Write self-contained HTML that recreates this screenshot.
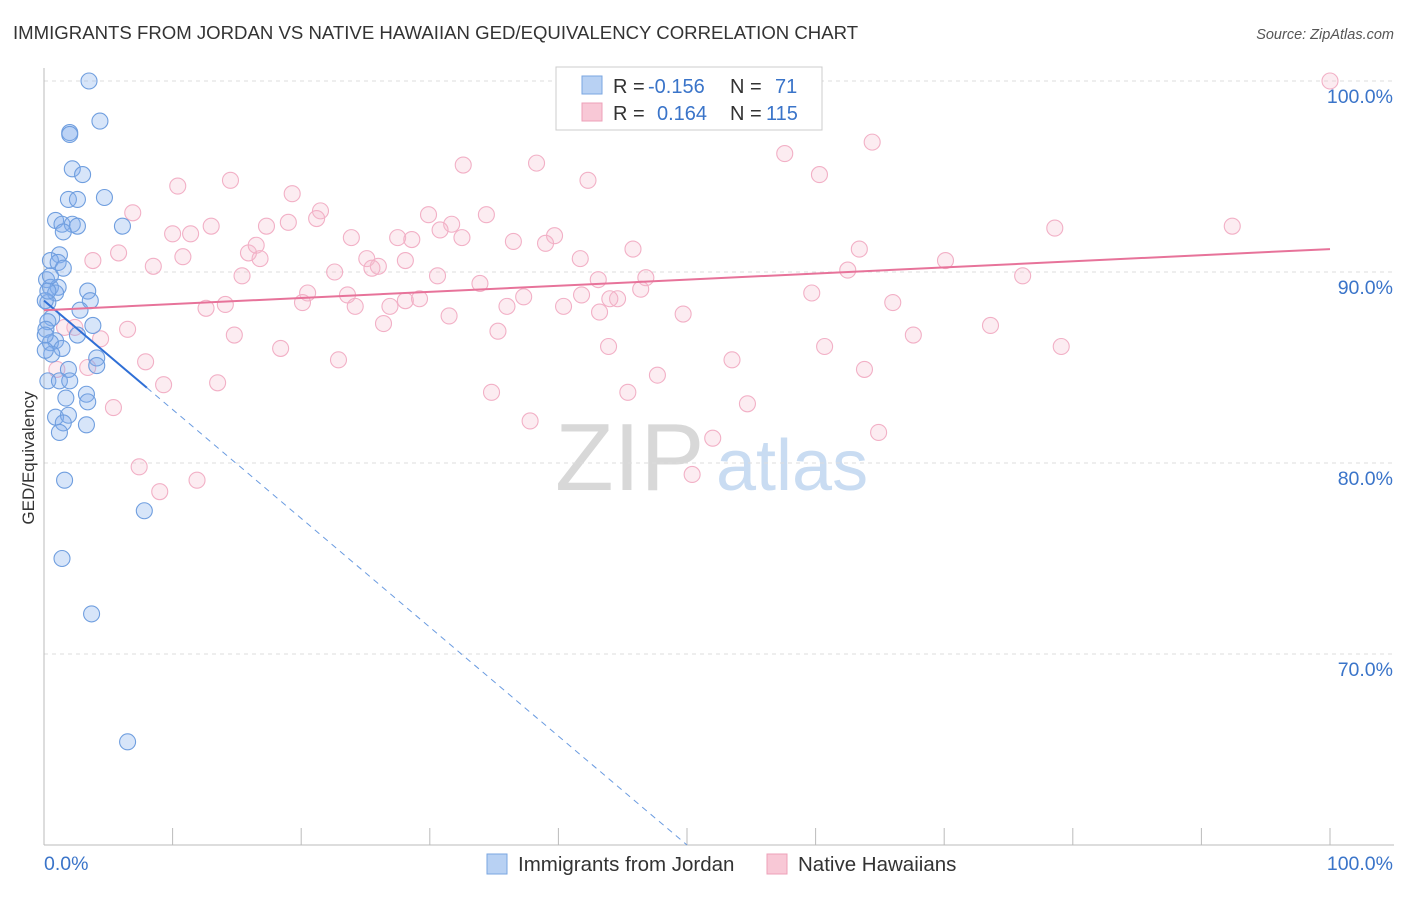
<!DOCTYPE html>
<html><head><meta charset="utf-8">
<style>
body{margin:0;background:#fff;font-family:"Liberation Sans",sans-serif;}
svg text{font-family:"Liberation Sans",sans-serif;}
</style></head>
<body>
<svg id="chart" width="1406" height="892" xmlns="http://www.w3.org/2000/svg">
<text x="13" y="39" font-size="18.6" fill="#333">IMMIGRANTS FROM JORDAN VS NATIVE HAWAIIAN GED/EQUIVALENCY CORRELATION CHART</text>
<text x="1394" y="39" font-size="14.5" fill="#555" text-anchor="end" font-style="italic">Source: ZipAtlas.com</text>
<text transform="translate(34,458) rotate(-90)" font-size="17" fill="#333" text-anchor="middle">GED/Equivalency</text>
<g>
<text x="555" y="490" font-size="96" fill="#d8d8d8" font-family="Liberation Serif,serif">ZIP</text>
<text x="716" y="490" font-size="72" fill="#c9dcf2">atlas</text>
</g>
<g id="grid"></g>
<g id="axes"></g>
<g id="pts"></g>
<g id="trends"></g>
<g>
<rect x="556" y="67" width="266" height="63" fill="#fff" stroke="#ccc"/>
<rect x="582" y="76" width="20" height="18" fill="#b8d1f3" stroke="#7aa6e0"/>
<text x="613" y="93" font-size="20" fill="#333">R =</text>
<text x="648" y="93" font-size="20" fill="#3a74c9">-0.156</text>
<text x="730" y="93" font-size="20" fill="#333">N =</text>
<text x="775" y="93" font-size="20" fill="#3a74c9">71</text>
<rect x="582" y="103" width="20" height="18" fill="#f8c8d6" stroke="#eea0b8"/>
<text x="613" y="120" font-size="20" fill="#333">R =</text>
<text x="657" y="120" font-size="20" fill="#3a74c9">0.164</text>
<text x="730" y="120" font-size="20" fill="#333">N =</text>
<text x="766" y="120" font-size="20" fill="#3a74c9">115</text>
</g>
<g>
<rect x="487" y="854" width="20" height="20" fill="#b8d1f3" stroke="#7aa6e0"/>
<text x="518" y="871" font-size="20.5" fill="#333">Immigrants from Jordan</text>
<rect x="767" y="854" width="20" height="20" fill="#f8c8d6" stroke="#eea0b8"/>
<text x="798" y="871" font-size="20.5" fill="#333">Native Hawaiians</text>
</g>
</svg>
<script>
const blueX=[3.5,2.0,2.0,4.35,2.2,3.0,4.7,1.9,2.6,0.9,1.4,2.2,2.6,6.1,1.5,1.2,0.5,1.1,1.5,0.2,0.5,1.1,3.4,0.9,3.6,0.3,2.8,0.6,0.3,3.8,0.15,2.6,0.9,0.5,1.4,0.6,4.1,4.1,1.9,0.3,1.2,2.0,3.3,1.7,3.4,0.9,1.9,1.5,3.3,1.2,1.6,7.8,1.4,3.7,6.5,0.1,0.1,0.1,0.3,0.5];
const blueY=[100.0,97.3,97.2,97.9,95.4,95.1,93.9,93.8,93.8,92.7,92.5,92.5,92.4,92.4,92.1,90.9,90.6,90.5,90.2,89.6,89.2,89.2,89.0,88.9,88.5,88.4,88.0,87.6,87.4,87.2,87.0,86.7,86.4,86.3,86.0,85.7,85.5,85.1,84.9,84.3,84.3,84.3,83.6,83.4,83.2,82.4,82.5,82.1,82.0,81.6,79.1,77.5,75.0,72.1,65.4,88.5,86.7,85.9,89.0,89.8];
const pinkX=[59.3,100,64.4,57.6,38.3,32.6,42.3,60.3,14.5,10.4,19.3,6.9,21.5,29.9,34.4,21.2,19.0,13.0,31.7,17.3,10.0,11.4,23.9,78.6,92.4,27.5,39.7,30.8,32.5,28.6,36.5,39.0,45.8,63.4,15.9,16.5,5.8,3.8,25.1,16.8,26.0,25.5,28.1,41.7,70.1,8.5,10.8,62.5,22.6,15.4,30.6,43.1,46.8,76.1,33.9,46.4,20.5,23.6,59.7,41.8,37.3,44.6,44.0,28.1,29.2,20.1,40.4,26.9,12.6,14.1,24.2,36.0,66.0,43.2,31.5,49.7,26.4,35.3,73.6,6.5,14.8,67.6,1.6,2.4,4.4,18.4,43.9,60.7,79.1,7.9,22.9,53.5,1.0,3.4,63.8,47.7,9.3,13.5,34.8,45.4,54.7,5.4,37.8,64.9,52.0,7.4,11.9,9.0,50.4];
const pinkY=[100.0,100,96.8,96.2,95.7,95.6,94.8,95.1,94.8,94.5,94.1,93.1,93.2,93.0,93.0,92.8,92.6,92.4,92.5,92.4,92.0,92.0,91.8,92.3,92.4,91.8,91.9,92.2,91.8,91.7,91.6,91.5,91.2,91.2,91.0,91.4,91.0,90.6,90.7,90.7,90.3,90.2,90.6,90.7,90.6,90.3,90.8,90.1,90.0,89.8,89.8,89.6,89.7,89.8,89.4,89.1,88.9,88.8,88.9,88.8,88.7,88.6,88.6,88.5,88.6,88.4,88.2,88.2,88.1,88.3,88.2,88.2,88.4,87.9,87.7,87.8,87.3,86.9,87.2,87.0,86.7,86.7,87.1,87.1,86.5,86.0,86.1,86.1,86.1,85.3,85.4,85.4,84.9,85.0,84.9,84.6,84.1,84.2,83.7,83.7,83.1,82.9,82.2,81.6,81.3,79.8,79.1,78.5,79.4];
const yTicks=[100,90,80,70];
const yTickLabels=["100.0%","90.0%","80.0%","70.0%"];
const xTicks=[0,10,20,30,40,50,60,70,80,90,100];
const blueTrend=[88.5,-0.57,0,8];
const pinkTrend=[88.0,0.032];

const X=v=>44+v*12.86, Y=v=>845-(v-60)*19.1;
const NS="http://www.w3.org/2000/svg";
function mk(tag,attrs,parent){const e=document.createElementNS(NS,tag);for(const k in attrs)e.setAttribute(k,attrs[k]);parent.appendChild(e);return e;}
const grid=document.getElementById('grid'),axes=document.getElementById('axes'),pts=document.getElementById('pts'),tr=document.getElementById('trends');
yTicks.forEach((t,i)=>{
  const l=mk('line',{x1:44,x2:1394,y1:Y(t),y2:Y(t),stroke:'#ddd','stroke-dasharray':'4,4'},grid);
  
  
  const tx=mk('text',{x:1393,y:Y(t)+22,'font-size':19.5,fill:'#3a74c9','text-anchor':'end'},axes);
  tx.textContent=yTickLabels[i];
  
  
});
const xa=mk('line',{x1:44,x2:1394,y1:845,y2:845,stroke:'#bbb'},axes);


const ya=mk('line',{x1:44,x2:44,y1:68,y2:845,stroke:'#bbb'},axes);


xTicks.forEach(t=>{
  const l=mk('line',{x1:X(t),x2:X(t),y1:828,y2:845,stroke:'#bbb'},axes);
  
  
});
const x0=mk('text',{x:44,y:870,'font-size':19.5,fill:'#3a74c9'},axes);x0.textContent='0.0%';


const x1=mk('text',{x:1393,y:870,'font-size':19.5,fill:'#3a74c9','text-anchor':'end'},axes);x1.textContent='100.0%';


pinkX.forEach((v,i)=>{
  const c=mk('circle',{cx:X(v),cy:Y(pinkY[i]),r:8,fill:'rgba(246,186,206,0.28)',stroke:'#f2b0c6','stroke-width':1.1},pts);
  
  
});
blueX.forEach((v,i)=>{
  const c=mk('circle',{cx:X(v),cy:Y(blueY[i]),r:8,fill:'rgba(130,175,235,0.32)',stroke:'#6f9edf','stroke-width':1.1},pts);
  
  
});
const by=x=>blueTrend[0]+blueTrend[1]*x;
const xEnd=(60-blueTrend[0])/blueTrend[1];
const b1=mk('line',{x1:X(blueTrend[2]),y1:Y(by(blueTrend[2])),x2:X(blueTrend[3]),y2:Y(by(blueTrend[3])),stroke:'#2f6fd6','stroke-width':2},tr);


const b2=mk('line',{x1:X(blueTrend[3]),y1:Y(by(blueTrend[3])),x2:X(xEnd),y2:Y(60),stroke:'#6a9be0','stroke-width':1,'stroke-dasharray':'6,5'},tr);


const py=x=>pinkTrend[0]+pinkTrend[1]*x;
const p1=mk('line',{x1:X(0),y1:Y(py(0)),x2:X(100),y2:Y(py(100)),stroke:'#e7739a','stroke-width':2},tr);


</script>
</body></html>
